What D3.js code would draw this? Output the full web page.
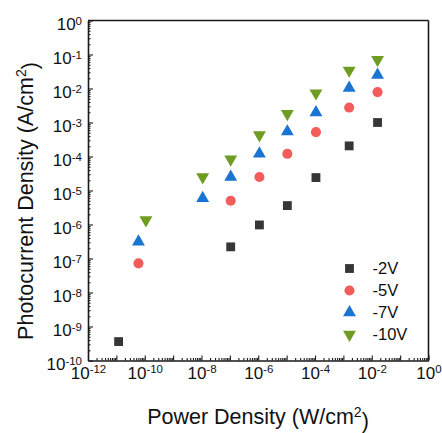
<!DOCTYPE html>
<html>
<head>
<meta charset="utf-8">
<script src="https://cdn.jsdelivr.net/npm/d3@7"></script>
<style>
  body { margin: 0; background: #fff; }
  text { font-family: "Liberation Sans", Arial, sans-serif; fill: #111; }
</style>
</head>
<body>
<div id="root"></div>
<script>
// series (power density W/cm2, photocurrent density A/cm2)
const seriesNames = ["-2V", "-5V", "-7V", "-10V"];

const power2V = [1.2e-11, 1.07e-7, 1.1e-6, 1.06e-5, 1.08e-4, 1.6e-3, 1.6e-2];
const current2V = [3.6e-10, 2.2e-7, 9.7e-7, 3.6e-6, 2.4e-5, 2.05e-4, 1.0e-3];

const power5V = [6e-11, 1.07e-7, 1.1e-6, 1.06e-5, 1.08e-4, 1.6e-3, 1.6e-2];
const current5V = [7.2e-8, 5.0e-6, 2.5e-5, 1.2e-4, 5.2e-4, 2.75e-3, 7.8e-3];

const power7V = [6e-11, 1.1e-8, 1.07e-7, 1.1e-6, 1.06e-5, 1.08e-4, 1.6e-3, 1.6e-2];
const current7V = [3.1e-7, 5.9e-6, 2.5e-5, 1.2e-4, 5.4e-4, 1.96e-3, 1.03e-2, 2.5e-2];

const power10V = [1.1e-10, 1.1e-8, 1.07e-7, 1.1e-6, 1.06e-5, 1.08e-4, 1.6e-3, 1.6e-2];
const current10V = [1.36e-6, 2.5e-5, 8.3e-5, 4.3e-4, 1.8e-3, 7.3e-3, 3.4e-2, 7.0e-2];

// tick label exponents
const xTickExps = [-12, -10, -8, -6, -4, -2, 0];
const yTickExps = [-10, -9, -8, -7, -6, -5, -4, -3, -2, -1, 0];

const w = 442;
const h = 433;

const series = [
  { name: seriesNames[0], x: power2V, y: current2V, symbol: d3.symbolSquare, size: 78, rot: 0, color: "#363636" },
  { name: seriesNames[1], x: power5V, y: current5V, symbol: d3.symbolCircle, size: 80, rot: 0, color: "#f45b5b" },
  { name: seriesNames[2], x: power7V, y: current7V, symbol: d3.symbolTriangle, size: 72, rot: 0, color: "#1a74d1" },
  { name: seriesNames[3], x: power10V, y: current10V, symbol: d3.symbolTriangle, size: 72, rot: 180, color: "#6f9c22" }
];

const xScale = d3.scaleLog().domain([1e-12, 1]).range([88, 428.5]);
const yScale = d3.scaleLog().domain([1e-10, 1]).range([360.5, 20.5]);

const svg = d3.select("#root")
  .append("svg")
  .attr("width", w)
  .attr("height", h);

// minor ticks: 2..9 in every decade
const minorVals = (lo, hi) => {
  const out = [];
  for (let e = lo; e < hi; e++) {
    for (let k = 2; k <= 9; k++) out.push(k * Math.pow(10, e));
  }
  return out;
};

function supLabel(sel) {
  sel.selectAll(".tick text").each(function(d) {
    const t = d3.select(this).text("");
    t.append("tspan").text("10");
    t.append("tspan")
      .attr("dy", "-0.5em")
      .style("font-size", "11.5px")
      .text(Math.round(Math.log10(d)));
  });
}

// x axis
const xMinor = svg.append("g")
  .attr("transform", `translate(0, ${yScale.range()[0]})`)
  .call(d3.axisBottom(xScale).tickValues(minorVals(-12, 0)).tickSize(-2.5).tickFormat(""));
xMinor.select(".domain").remove();

const xAxis = svg.append("g")
  .attr("id", "x-axis")
  .attr("transform", `translate(0, ${yScale.range()[0]})`)
  .call(d3.axisBottom(xScale)
    .tickValues(d3.range(-12, 1).map(e => Math.pow(10, e)))
    .tickSizeInner(-5)
    .tickSizeOuter(0)
    .tickPadding(6)
    .tickFormat(() => "x"));
xAxis.selectAll(".tick").filter(d => !xTickExps.includes(Math.round(Math.log10(d)))).select("text").remove();
xAxis.selectAll(".tick text").style("font-size", "17px");
supLabel(xAxis);

// y axis
const yMinor = svg.append("g")
  .attr("transform", `translate(${xScale.range()[0]}, 0)`)
  .call(d3.axisLeft(yScale).tickValues(minorVals(-10, 0)).tickSize(-2.5).tickFormat(""));
yMinor.select(".domain").remove();

const yAxis = svg.append("g")
  .attr("id", "y-axis")
  .attr("transform", `translate(${xScale.range()[0]}, 0)`)
  .call(d3.axisLeft(yScale)
    .tickValues(yTickExps.map(e => Math.pow(10, e)))
    .tickSizeInner(-5)
    .tickSizeOuter(0)
    .tickPadding(6)
    .tickFormat(() => "x"));
yAxis.selectAll(".tick text").style("font-size", "17px").attr("dy", "0.55em");
supLabel(yAxis);

svg.selectAll(".domain, .tick line").attr("stroke", "#1a1a1a");
svg.selectAll(".domain").attr("stroke-width", 1.6);
svg.selectAll(".tick line").attr("stroke-width", 1.1);

// top and right frame
svg.append("line")
  .attr("x1", xScale.range()[0]).attr("x2", xScale.range()[1])
  .attr("y1", yScale.range()[1]).attr("y2", yScale.range()[1])
  .attr("stroke", "#1a1a1a").attr("stroke-width", 1.6);
svg.append("line")
  .attr("x1", xScale.range()[1]).attr("x2", xScale.range()[1])
  .attr("y1", yScale.range()[1]).attr("y2", yScale.range()[0])
  .attr("stroke", "#1a1a1a").attr("stroke-width", 1.6);

// markers
series.forEach(s => {
  svg.append("g")
    .selectAll("path")
    .data(s.x.map((v, i) => [v, s.y[i]]))
    .enter()
    .append("path")
    .attr("d", d3.symbol().type(s.symbol).size(s.size))
    .attr("transform", d => `translate(${xScale(d[0])}, ${yScale(d[1])}) rotate(${s.rot})`)
    .attr("fill", s.color);
});

// legend
const legend = svg.append("g")
  .selectAll("g")
  .data(series)
  .enter()
  .append("g")
  .attr("transform", (d, i) => `translate(349.5, ${268.5 + i * 22})`);

legend.append("path")
  .attr("d", d => d3.symbol().type(d.symbol).size(d.size)())
  .attr("transform", d => `rotate(${d.rot})`)
  .attr("fill", d => d.color);

legend.append("text")
  .attr("x", 23)
  .attr("dy", "0.36em")
  .style("font-size", "16.5px")
  .text(d => d.name);

// axis titles
const xTitle = svg.append("text")
  .attr("x", 258)
  .attr("y", 424)
  .attr("text-anchor", "middle")
  .style("font-size", "21.5px");
xTitle.append("tspan").text("Power Density (W/cm");
xTitle.append("tspan").attr("dy", "-0.5em").style("font-size", "14px").text("2");
xTitle.append("tspan").attr("dy", "0.5em").text(")");

const yTitle = svg.append("text")
  .attr("transform", "translate(33, 201) rotate(-90)")
  .attr("text-anchor", "middle")
  .style("font-size", "21.5px");
yTitle.append("tspan").text("Photocurrent Density (A/cm");
yTitle.append("tspan").attr("dy", "-0.5em").style("font-size", "14px").text("2");
yTitle.append("tspan").attr("dy", "0.5em").text(")");
</script>
</body>
</html>
